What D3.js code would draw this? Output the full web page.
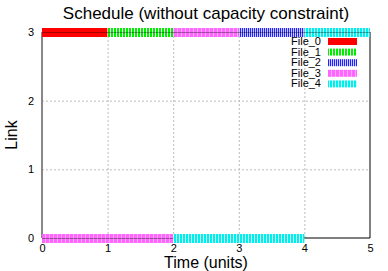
<!DOCTYPE html>
<html>
<head>
<meta charset="utf-8">
<script src="https://cdn.jsdelivr.net/npm/d3@7"></script>
<style>
  body { margin: 0; background: #fff; }
  svg { font-family: "Liberation Sans", Arial, sans-serif; }
</style>
</head>
<body>
<svg id="chart" width="388" height="271"></svg>
<script>
// schedule data
const files = ["File_0", "File_1", "File_2", "File_3", "File_4"];
const fileColors = ["#ff0000", "#00ee00", "#2222ff", "#ff66ff", "#00f0f0"];
const segLink = [3, 3, 3, 3, 3, 0, 0];
const segFile = [0, 1, 3, 2, 4, 3, 4];
const segStart = [0, 1, 2, 3, 4, 0, 2];
const segEnd = [1, 2, 3, 4, 5, 2, 4];
const xTicks = [0, 1, 2, 3, 4, 5];
const yTicks = [0, 1, 2, 3];

const svg = d3.select("svg#chart");
const margin = { top: 32, right: 18, bottom: 33, left: 42 };
const width = +svg.attr("width");
const height = +svg.attr("height");
const chartWidth = width - margin.left - margin.right;
const chartHeight = height - margin.top - margin.bottom;

const xScale = d3.scaleLinear().domain([0, 5]).range([0, chartWidth]);
const yScale = d3.scaleLinear().domain([0, 3]).range([chartHeight, 0]);

// stripe patterns for each file
const defs = svg.append("defs");
const stripe = [
    { w: 0, gap: 0, light: null },
    { w: 3, gap: 1, light: "#ffffff" },
    { w: 2, gap: 1, light: "#ccccff" },
    { w: 4, gap: 1, light: "#ffaaff" },
    { w: 3, gap: 1, light: "#ccffff" }
];
files.forEach((f, i) => {
    const p = defs.append("pattern")
        .attr("id", "pat" + i)
        .attr("patternUnits", "userSpaceOnUse")
        .attr("width", stripe[i].w || 4)
        .attr("height", 10);
    p.append("rect").attr("width", stripe[i].w || 4).attr("height", 10).attr("fill", fileColors[i]);
    if (stripe[i].light) {
        p.append("rect").attr("x", stripe[i].w - stripe[i].gap).attr("width", stripe[i].gap)
            .attr("height", 10).attr("fill", stripe[i].light);
    }
});

const g = svg.append("g").attr("transform", `translate(${margin.left},${margin.top})`);

// gridlines
g.append("g").attr("class", "grid")
    .call(d3.axisBottom(xScale).tickValues(xTicks.slice(1, -1)).tickSize(chartHeight).tickFormat(""))
    .call(a => a.select(".domain").remove())
    .selectAll("line").attr("stroke", "#bbb").attr("stroke-dasharray", "2,2");
g.append("g").attr("class", "grid")
    .call(d3.axisLeft(yScale).tickValues(yTicks.slice(1, -1)).tickSize(-chartWidth).tickFormat(""))
    .call(a => a.select(".domain").remove())
    .selectAll("line").attr("stroke", "#bbb").attr("stroke-dasharray", "2,2");

// frame
g.append("line").attr("x1", chartWidth).attr("x2", chartWidth).attr("y1", 0).attr("y2", chartHeight)
    .attr("stroke", "#000");
g.append("line").attr("x1", 0).attr("x2", chartWidth).attr("y1", chartHeight).attr("y2", chartHeight)
    .attr("stroke", "#000");
g.append("line").attr("x1", 0).attr("x2", 0).attr("y1", 0).attr("y2", chartHeight)
    .attr("stroke", "#888").attr("stroke-width", 2);

// bars
const segs = segLink.map((l, i) => ({ link: l, file: segFile[i], s: segStart[i], e: segEnd[i] }));
g.selectAll("rect.bar").data(segs).join("rect").attr("class", "bar")
    .attr("x", d => xScale(d.s))
    .attr("width", d => xScale(d.e) - xScale(d.s))
    .attr("y", d => yScale(d.link) - 4)
    .attr("height", 9)
    .attr("fill", d => `url(#pat${d.file})`);

// line through the bars (border seen through)
g.append("line").attr("x1", 0).attr("x2", chartWidth).attr("y1", 0.5).attr("y2", 0.5)
    .attr("stroke", "#000").attr("stroke-opacity", 0.35);
g.append("line").attr("x1", 0).attr("x2", xScale(2)).attr("y1", chartHeight + 0.5).attr("y2", chartHeight + 0.5)
    .attr("stroke", "#000").attr("stroke-opacity", 0.35);

// tick labels
g.append("g").attr("transform", `translate(0,${chartHeight})`)
    .call(d3.axisBottom(xScale).tickValues(xTicks).tickSize(0).tickPadding(6).tickFormat(d3.format("d")))
    .call(a => a.select(".domain").remove())
    .selectAll("text").attr("font-size", 11).attr("fill", "#000")
    .attr("font-family", "Liberation Sans, Arial, sans-serif");
g.append("g")
    .call(d3.axisLeft(yScale).tickValues(yTicks).tickSize(0).tickPadding(8).tickFormat(d3.format("d")))
    .call(a => a.select(".domain").remove())
    .selectAll("text").attr("font-size", 11).attr("fill", "#000")
    .attr("font-family", "Liberation Sans, Arial, sans-serif");

// titles
svg.append("text").attr("x", 206).attr("y", 19).attr("text-anchor", "middle")
    .attr("font-size", 17).text("Schedule (without capacity constraint)");
svg.append("text").attr("x", 206).attr("y", 268).attr("text-anchor", "middle")
    .attr("font-size", 16).text("Time (units)");
svg.append("text").attr("transform", "translate(17,135) rotate(-90)").attr("text-anchor", "middle")
    .attr("font-size", 16).text("Link");

// legend
const legend = svg.append("g").attr("transform", "translate(0,41)");
const rows = legend.selectAll("g").data(files).join("g")
    .attr("transform", (d, i) => `translate(0,${i * 10.6})`);
rows.append("text").attr("x", 321).attr("y", 4).attr("text-anchor", "end")
    .attr("font-size", 11).text(d => d);
rows.append("rect").attr("x", 328).attr("y", -3).attr("width", 29).attr("height", 7)
    .attr("fill", (d, i) => `url(#pat${i})`);
</script>
</body>
</html>
